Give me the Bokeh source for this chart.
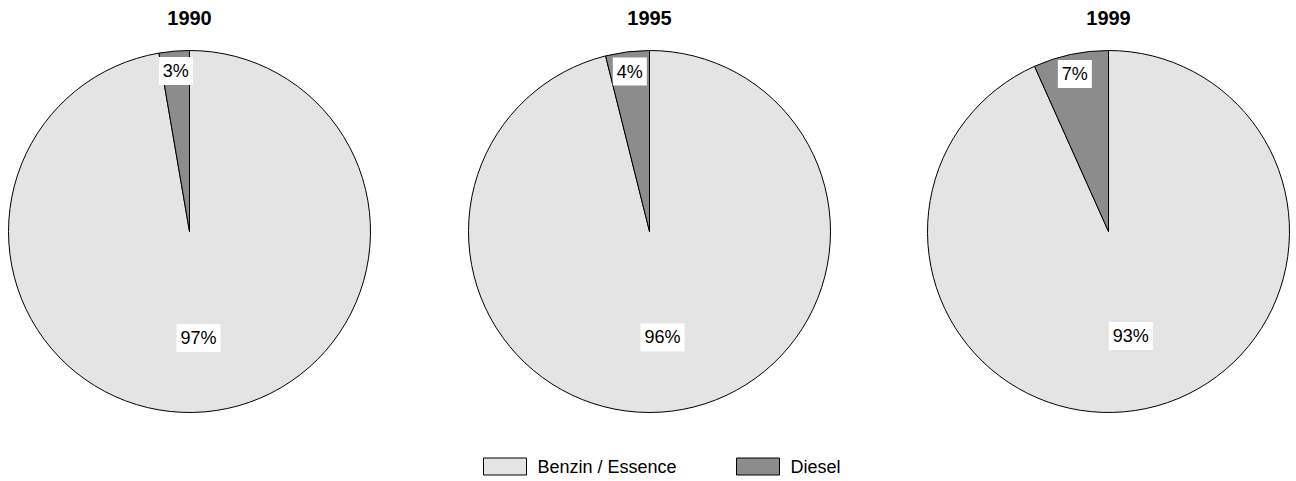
import math
from bokeh.plotting import figure
from bokeh.models import Range1d, ColumnDataSource
from bokeh.core.properties import value
from bokeh.embed import file_html
from bokeh.resources import INLINE

# ---- data ----
years = ["1990", "1995", "1999"]
categories = ["Benzin / Essence", "Diesel"]
benzin = [97.3, 96.1, 93.3]
diesel = [2.7, 3.9, 6.7]
colors = ["#e4e4e4", "#8c8c8c"]

# ---- layout ----
W, H = 1296, 481
FONT = "Liberation Sans"
p = figure(width=W, height=H, x_range=Range1d(0, W), y_range=Range1d(0, H),
           output_backend="svg", toolbar_location=None, min_border=0,
           outline_line_color=None)
p.axis.visible = False
p.grid.visible = False
p.background_fill_color = "white"

R = 181
cy = 250
centers = [189, 649, 1108]
title_y = 464

for i, yr in enumerate(years):
    cx = centers[i]
    d = diesel[i] / 100.0 * 2 * math.pi
    start = math.pi / 2
    src = ColumnDataSource(dict(
        x=[cx, cx], y=[cy, cy],
        start=[start + d, start],
        end=[start + 2 * math.pi, start + d],
        color=colors,
    ))
    p.wedge(x="x", y="y", radius=R, start_angle="start", end_angle="end",
            direction="anticlock", fill_color="color", line_color="black",
            line_width=1, source=src)
    mid_d = start + d / 2
    mid_b = start + d + (2 * math.pi - d) / 2
    lx = [cx + 0.59 * R * math.cos(mid_b), cx + 0.89 * R * math.cos(mid_d)]
    ly = [cy + 0.59 * R * math.sin(mid_b), cy + 0.89 * R * math.sin(mid_d)]
    txt = [f"{round(benzin[i])}%", f"{round(diesel[i])}%"]
    p.text(x=lx, y=ly, text=txt, text_align="center", text_baseline="middle",
           text_font=value(FONT), text_font_size="18px", text_color="black",
           background_fill_color="white", padding=4)
    p.text(x=[cx], y=[title_y], text=[yr], text_align="center",
           text_baseline="middle", text_font=value(FONT),
           text_font_size="20px", text_font_style="bold", text_color="black")

# ---- legend ----
leg_y = 15
box_w, box_h = 43, 17
box_x0 = [483, 736]
for j, cat in enumerate(categories):
    p.rect(x=[box_x0[j] + box_w / 2], y=[leg_y], width=box_w, height=box_h,
           fill_color=colors[j], line_color="black", line_width=1)
    p.text(x=[box_x0[j] + box_w + 11], y=[leg_y], text=[cat],
           text_align="left", text_baseline="middle", text_font=value(FONT),
           text_font_size="18px", text_color="black")

open("out.html", "w").write(file_html(p, INLINE))
